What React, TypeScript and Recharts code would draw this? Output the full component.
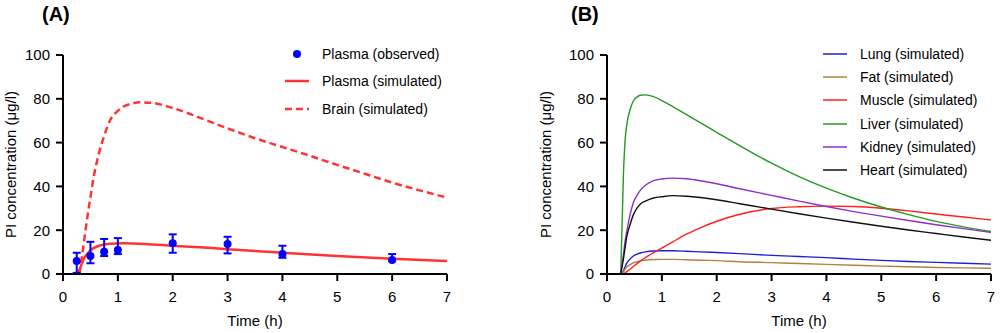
import { ComposedChart, LineChart, Line, XAxis, YAxis, ErrorBar, Legend } from 'recharts'

const FONT = '"Liberation Sans", Arial, sans-serif'

const xTicks = [0, 1, 2, 3, 4, 5, 6, 7]
const yTicks = [0, 20, 40, 60, 80, 100]

// (A) observed plasma: mean plus whisker lengths below / above
const obsTime = [0.25, 0.5, 0.75, 1, 2, 3, 4, 6]
const obsMean = [5.9, 8.2, 10.2, 11, 14, 13.7, 9.1, 6.4]
const obsErrLow = [5.4, 3.3, 2.0, 1.9, 4.3, 4.3, 1.7, 0.5]
const obsErrHigh = [3.8, 6.5, 5.8, 5.4, 4.1, 3.3, 3.8, 2.7]

// (A) simulated plasma
const plasmaTime = [0.25, 0.3, 0.37, 0.45, 0.55, 0.7, 0.85, 1.1, 1.5, 2, 2.5, 3, 4, 5, 6, 7]
const plasmaSim = [0, 2, 6.4, 9.5, 11.7, 13.2, 13.8, 14, 13.7, 12.9, 12.2, 11.3, 9.7, 8.2, 7, 5.9]

// (A) simulated brain
const brainTime = [0.3, 0.34, 0.4, 0.45, 0.5, 0.55, 0.64, 0.75, 0.86, 1, 1.1, 1.25, 1.4, 1.6, 2, 2.5, 3, 3.5, 4, 4.5, 5, 5.5, 6, 6.5, 7]
const brainSim = [0, 7, 18, 27, 35, 43, 53.6, 63, 70.3, 74.5, 76.4, 77.8, 78.4, 78.2, 75.8, 71.3, 66.5, 62, 58, 54, 49.8, 45.8, 41.7, 38.2, 34.9]

// (B) simulated tissues, shared time grid
const tissueTime = [0.25, 0.3, 0.33, 0.36, 0.42, 0.48, 0.55, 0.61, 0.7, 0.85, 1, 1.2, 1.45, 1.7, 2, 2.42, 3, 3.5, 4, 4.5, 5, 5.5, 6, 6.5, 7]
const lung = [0, 1.5, 3.3, 5, 6.8, 8.2, 9.1, 9.6, 10.1, 10.5, 10.6, 10.6, 10.4, 10.1, 9.8, 9.3, 8.5, 8, 7.5, 6.8, 6.2, 5.7, 5.3, 4.9, 4.5]
const fat = [0, 1, 2.2, 3.2, 4.3, 5.1, 5.6, 6, 6.3, 6.6, 6.7, 6.7, 6.5, 6.3, 6.1, 5.6, 5.2, 4.8, 4.4, 4, 3.6, 3.3, 3, 2.8, 2.6]
const muscle = [0, 0, 0.5, 1.1, 2.2, 3.4, 4.8, 6, 7.5, 9.8, 11.8, 14.7, 18.2, 21.1, 24.1, 27.3, 29.9, 30.7, 31, 30.8, 30, 28.8, 27.4, 26, 24.7]
const liver = [0, 45.7, 61, 68, 75, 79, 80.9, 81.6, 81.8, 81, 79.2, 76.4, 72.8, 69.1, 64.7, 58.6, 50.6, 44.5, 39.2, 34.6, 30.6, 27.1, 24, 21.5, 19.4]
const kidney = [0, 9, 15, 19.5, 27, 32.5, 36, 38.3, 40.5, 42.6, 43.4, 43.8, 43.5, 42.6, 41.2, 38.9, 35.9, 33.3, 30.8, 28.5, 26.4, 24.4, 22.5, 20.7, 19]
const heart = [0, 7, 12, 17, 22.5, 27, 30.2, 32, 33.3, 34.7, 35.3, 35.8, 35.5, 34.9, 33.9, 32.1, 29.6, 27.5, 25.5, 23.6, 21.8, 20.1, 18.5, 16.9, 15.4]

const tissueNames = ['Lung (simulated)', 'Fat (simulated)', 'Muscle (simulated)', 'Liver (simulated)', 'Kidney (simulated)', 'Heart (simulated)']
const tissueColors = ['#1f1fd6', '#b5803c', '#ff2020', '#239a23', '#8e2ec8', '#111111']
const tissueSeries = [lung, fat, muscle, liver, kidney, heart]

const obsRows = obsTime.map((t, i) => ({ t, v: obsMean[i], err: [obsErrLow[i], obsErrHigh[i]] }))
const plasmaRows = plasmaTime.map((t, i) => ({ t, v: plasmaSim[i] }))
const brainRows = brainTime.map((t, i) => ({ t, v: brainSim[i] }))

const axisLine = { stroke: '#000', strokeWidth: 2 }
const tickStyle = { fontSize: 15, fill: '#000', fontFamily: FONT }

function legendA() {
  const rows = [
    { name: 'Plasma (observed)', kind: 'dot' },
    { name: 'Plasma (simulated)', kind: 'line' },
    { name: 'Brain (simulated)', kind: 'dash' },
  ]
  return (
    <div style={{ fontFamily: FONT, fontSize: 14, color: '#000' }}>
      {rows.map((r) => (
        <div key={r.name} style={{ display: 'flex', alignItems: 'center', height: 27.5 }}>
          <svg width={26} height={10}>
            {r.kind === 'dot' && <circle cx={13} cy={5} r={4} fill="#0000ff" />}
            {r.kind === 'line' && <line x1={1} y1={5} x2={25} y2={5} stroke="#ff3333" strokeWidth={2.5} />}
            {r.kind === 'dash' && <line x1={1} y1={5} x2={25} y2={5} stroke="#ff3333" strokeWidth={2.5} strokeDasharray="7 4" />}
          </svg>
          <span style={{ marginLeft: 12, whiteSpace: 'nowrap' }}>{r.name}</span>
        </div>
      ))}
    </div>
  )
}

function legendB() {
  return (
    <div style={{ fontFamily: FONT, fontSize: 14, color: '#000' }}>
      {tissueNames.map((n, i) => (
        <div key={n} style={{ display: 'flex', alignItems: 'center', height: 23.3 }}>
          <svg width={24} height={6}>
            <line x1={0} y1={3} x2={24} y2={3} stroke={tissueColors[i]} strokeWidth={1.5} />
          </svg>
          <span style={{ marginLeft: 13, whiteSpace: 'nowrap' }}>{n}</span>
        </div>
      ))}
    </div>
  )
}

const panelTitle = { position: 'absolute' as const, top: 3, fontFamily: FONT, fontWeight: 700, fontSize: 20 }

export default function App() {
  return (
    <div style={{ position: 'absolute', left: 0, top: 0, width: 1000, height: 333, background: '#fff' }}>
      <div style={{ ...panelTitle, left: 42 }}>(A)</div>
      <div style={{ ...panelTitle, left: 571 }}>(B)</div>

      <div style={{ position: 'absolute', left: 0, top: 0 }}>
        <ComposedChart width={500} height={333} margin={{ top: 55, right: 53, bottom: 29, left: 23 }} style={{ fontFamily: FONT }}>
          <XAxis
            dataKey="t"
            type="number"
            domain={[0, 7]}
            ticks={xTicks}
            interval={0}
            height={30}
            tickSize={7}
            tickMargin={10}
            axisLine={axisLine}
            tickLine={axisLine}
            tick={tickStyle}
            label={{ value: 'Time (h)', position: 'bottom', offset: 11, fontSize: 15, fill: '#000' }}
          />
          <YAxis
            type="number"
            domain={[0, 100]}
            ticks={yTicks}
            interval={0}
            width={40}
            tickSize={7}
            tickMargin={6}
            axisLine={axisLine}
            tickLine={axisLine}
            tick={tickStyle}
            label={{ value: 'PI concentration (μg/l)', angle: -90, position: 'insideLeft', offset: -12, textAnchor: 'middle', fontSize: 15, fill: '#000' }}
          />
          <Legend layout="vertical" align="center" verticalAlign="middle" content={legendA} wrapperStyle={{ left: 284, top: 40, width: 210 }} />
          <Line data={brainRows} dataKey="v" type="monotone" stroke="#ff3333" strokeWidth={2.5} strokeDasharray="7 4" dot={false} activeDot={false} isAnimationActive={false} />
          <Line data={plasmaRows} dataKey="v" type="monotone" stroke="#ff3333" strokeWidth={2.5} dot={false} activeDot={false} isAnimationActive={false} />
          <Line
            data={obsRows}
            dataKey="v"
            stroke="none"
            strokeWidth={0}
            dot={{ r: 4, fill: '#0000ff', stroke: 'none' }}
            activeDot={false}
            isAnimationActive={false}
          >
            <ErrorBar dataKey="err" direction="y" width={4} stroke="#0000ff" strokeWidth={2} isAnimationActive={false} />
          </Line>
        </ComposedChart>
      </div>

      <div style={{ position: 'absolute', left: 500, top: 0 }}>
        <LineChart width={500} height={333} margin={{ top: 55, right: 9, bottom: 29, left: 67 }} style={{ fontFamily: FONT }}>
          <XAxis
            dataKey="t"
            type="number"
            domain={[0, 7]}
            ticks={xTicks}
            interval={0}
            height={30}
            tickSize={7}
            tickMargin={10}
            axisLine={axisLine}
            tickLine={axisLine}
            tick={tickStyle}
            label={{ value: 'Time (h)', position: 'bottom', offset: 11, fontSize: 15, fill: '#000' }}
          />
          <YAxis
            type="number"
            domain={[0, 100]}
            ticks={yTicks}
            interval={0}
            width={40}
            tickSize={7}
            tickMargin={6}
            axisLine={axisLine}
            tickLine={axisLine}
            tick={tickStyle}
            label={{ value: 'PI concentration (μg/l)', angle: -90, position: 'insideLeft', offset: -21, textAnchor: 'middle', fontSize: 15, fill: '#000' }}
          />
          <Legend layout="vertical" align="center" verticalAlign="middle" content={legendB} wrapperStyle={{ left: 323, top: 42, width: 175 }} />
          {tissueSeries.map((vals, i) => (
            <Line
              key={tissueNames[i]}
              data={tissueTime.map((t, j) => ({ t, v: vals[j] }))}
              dataKey="v"
              type="monotone"
              stroke={tissueColors[i]}
              strokeWidth={1.4}
              dot={false}
              activeDot={false}
              isAnimationActive={false}
            />
          ))}
        </LineChart>
      </div>
    </div>
  )
}
